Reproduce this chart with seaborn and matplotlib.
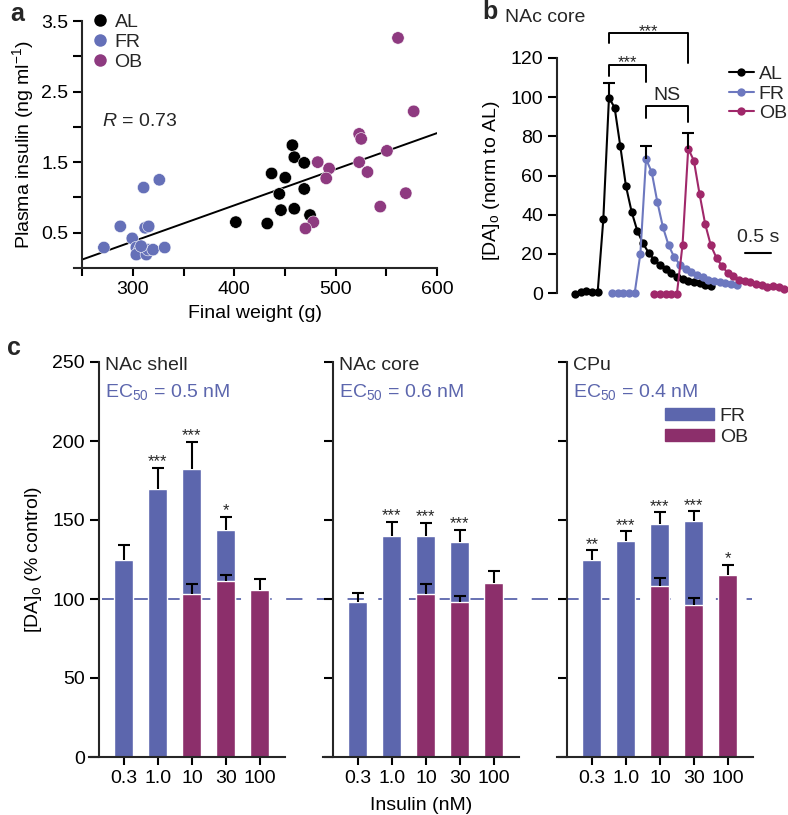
import numpy as np
import pandas as pd
import matplotlib
matplotlib.use("Agg")
import matplotlib.pyplot as plt
import matplotlib.transforms as mtransforms
from matplotlib.lines import Line2D
from matplotlib.patches import Patch
import seaborn as sns

# colours
BLUE = "#5c66ad"
PURPLE = "#8c2f6b"
DOT_COLORS = {"AL": "black", "FR": "#6570b8", "OB": "#8e3a80"}
LINE_COLORS = {"AL": "black", "FR": "#6d78bf", "OB": "#a0286a"}

# ---- panel a: final weight vs plasma insulin ----
al_weight = [401.5, 432.5, 436.8, 450.3, 444.4, 446.0, 457.3, 459.2, 469.0, 469.0, 459.2, 474.7]
al_insulin = [0.65, 0.63, 1.34, 1.28, 1.05, 0.82, 1.74, 1.57, 1.49, 1.12, 0.84, 0.75]
fr_weight = [271.3, 287.5, 299.3, 310.5, 326.0, 312.0, 315.5, 303.3, 306.6, 303.3, 313.2, 314.8, 319.8, 331.3, 308.0]
fr_insulin = [0.29, 0.59, 0.42, 1.14, 1.25, 0.57, 0.59, 0.29, 0.26, 0.19, 0.19, 0.26, 0.26, 0.29, 0.31]
ob_weight = [561.5, 577.0, 523.2, 525.2, 550.6, 482.3, 493.5, 523.2, 531.4, 490.7, 569.2, 544.0, 478.0, 470.2]
ob_insulin = [3.26, 2.22, 1.90, 1.83, 1.66, 1.50, 1.41, 1.50, 1.36, 1.27, 1.06, 0.87, 0.65, 0.56]

# ---- panel b: evoked [DA]o time course, NAc core ----
DT = 0.11  # s between samples
al_trace = [-0.5, 0.3, 1.0, 0.3, 0.3, 37.6, 99.8, 94.6, 75.0, 54.6, 41.5, 31.8, 25.4, 20.6,
            16.9, 14.3, 12.1, 10.0, 8.3, 7.1, 6.1, 5.4, 4.9, 4.1, 3.5]
fr_trace = [0, 0, 0, 0, 0, 20.0, 68.4, 61.8, 46.5, 33.5, 24.3, 18.2, 14.5, 12.3, 10.5, 9.2,
            8.0, 6.8, 6.0, 5.4, 5.1, 4.6, 3.9]
ob_trace = [-0.5, -0.5, -0.5, -0.5, -0.5, 24.7, 73.7, 67.6, 50.6, 35.2, 24.3, 17.9, 13.6,
            10.2, 8.5, 6.8, 6.0, 5.4, 4.8, 3.9, 3.1, 3.7, 3.1, 2.2]
trace_offset = {"AL": 0.0, "FR": 0.72, "OB": 1.54}
peak_sem = {"AL": 7.2, "FR": 6.8, "OB": 8.0}

# ---- panel c: insulin dose response ----
conc = ["0.3", "1.0", "10", "30", "100"]
fr_conc = ["0.3", "1.0", "10", "30"]
ob_conc = ["10", "30", "100"]
regions = ["NAc shell", "NAc core", "CPu"]
ec50 = ["0.5", "0.6", "0.4"]
fr_mean = [[124.5, 169.6, 182.5, 143.9], [97.9, 139.7, 139.7, 136.1], [125.0, 136.6, 147.3, 149.4]]
fr_sem = [[9.9, 13.3, 17.1, 8.0], [5.7, 9.0, 8.4, 7.6], [5.7, 6.3, 7.5, 6.1]]
fr_stars = [["", "***", "***", "*"], ["", "***", "***", "***"], ["**", "***", "***", "***"]]
ob_mean = [[103.4, 111.2, 105.5], [103.2, 98.3, 109.9], [108.4, 96.2, 115.5]]
ob_sem = [[6.3, 4.2, 7.2], [6.0, 3.6, 8.0], [4.6, 4.2, 5.9]]
ob_stars = [["", "", ""], ["", "", ""], ["", "", "*"]]

sns.set_style("ticks")
plt.rcParams["font.family"] = ["Liberation Sans", "DejaVu Sans"]
plt.rcParams["mathtext.fontset"] = "custom"
plt.rcParams["mathtext.rm"] = "Liberation Sans"
plt.rcParams["mathtext.it"] = "Liberation Sans:italic"
plt.rcParams["mathtext.bf"] = "Liberation Sans:bold"
plt.rcParams["axes.linewidth"] = 1.5
plt.rcParams["xtick.major.width"] = 1.5
plt.rcParams["ytick.major.width"] = 1.5
plt.rcParams["xtick.major.size"] = 6
plt.rcParams["ytick.major.size"] = 6.5
plt.rcParams["xtick.labelsize"] = 14
plt.rcParams["ytick.labelsize"] = 14
plt.rcParams["axes.labelsize"] = 14
plt.rcParams["axes.labelcolor"] = "black"
plt.rcParams["xtick.color"] = "black"
plt.rcParams["ytick.color"] = "black"

W, H = 788, 815
fig = plt.figure(figsize=(W / 100, H / 100), dpi=100)


def px_axes(left, top, right, bottom):
    return fig.add_axes([left / W, 1 - bottom / H, (right - left) / W, (bottom - top) / H])


def up_errorbar(ax, xs, means, sems, cap_ms=8):
    # upward-only error bars with a single cap on top
    tops = [m + s for m, s in zip(means, sems)]
    ax.vlines(xs, means, tops, color="black", lw=1.5, zorder=4, clip_on=False)
    ax.plot(xs, tops, ls="none", marker="_", ms=cap_ms, mew=1.5, color="black",
            zorder=4, clip_on=False)


# ================= panel a =================
ax = px_axes(74, 21, 437, 268)
ax.patch.set_visible(False)
df_a = pd.DataFrame({
    "weight": al_weight + fr_weight + ob_weight,
    "insulin": al_insulin + fr_insulin + ob_insulin,
    "group": ["AL"] * len(al_weight) + ["FR"] * len(fr_weight) + ["OB"] * len(ob_weight),
})
ax.set_xlim(250, 600)
sns.regplot(data=df_a, x="weight", y="insulin", scatter=False, ci=None, truncate=False,
            line_kws={"color": "black", "lw": 1.4}, ax=ax)
sns.scatterplot(data=df_a, x="weight", y="insulin", hue="group", palette=DOT_COLORS,
                s=80, edgecolor="white", linewidth=0.4, legend=False, ax=ax, zorder=3)
ax.set_xlim(241.8, 600)
ax.set_ylim(0, 3.5)
ax.spines["left"].set_position(("data", 250))
ax.spines[["top", "right"]].set_visible(False)
ax.set_xticks([250, 300, 350, 400, 450, 500, 550, 600])
ax.set_xticklabels(["", "300", "", "400", "", "500", "", "600"])
ax.set_yticks([0.5, 1.0, 1.5, 2.0, 2.5, 3.0, 3.5])
ax.set_yticklabels(["0.5", "", "1.5", "", "2.5", "", "3.5"])
ax.set_xlabel("Final weight (g)", labelpad=5)
ax.set_ylabel("Plasma insulin (ng ml$^{-1}$)", labelpad=4)
ax.text(0.077, 0.595, "$R$ = 0.73", transform=ax.transAxes, fontsize=14, va="center")
handles = [Line2D([], [], ls="none", marker="o", ms=9, mec="none", mfc=DOT_COLORS[g]) for g in ["AL", "FR", "OB"]]
ax.legend(handles, ["AL", "FR", "OB"], loc="upper left", bbox_to_anchor=(0.05, 1.03),
          frameon=False, fontsize=14, handlelength=0.8, handletextpad=0.35,
          labelspacing=0.12, borderpad=0, borderaxespad=0)
fig.text(10 / W, 1 - 14 / H, "a", fontsize=18, fontweight="bold", va="center")

# ================= panel b =================
ax = px_axes(557, 58, 787, 302.8)
ax.patch.set_visible(False)
traces = {"AL": al_trace, "FR": fr_trace, "OB": ob_trace}
rows = []
for g, vals in traces.items():
    for i, v in enumerate(vals):
        rows.append((g, trace_offset[g] + i * DT, v))
df_b = pd.DataFrame(rows, columns=["group", "t", "da"])
sns.lineplot(data=df_b, x="t", y="da", hue="group", palette=LINE_COLORS, marker="o",
             markersize=6, markeredgewidth=0, lw=1.5, errorbar=None, legend=False, ax=ax)
for ln in ax.lines:
    ln.set_clip_on(False)
peak_t = {}
for g, vals in traces.items():
    k = int(np.argmax(vals))
    peak_t[g] = trace_offset[g] + k * DT
    up_errorbar(ax, [peak_t[g]], [vals[k]], [peak_sem[g]], cap_ms=9)


def bracket(x1, x2, y, y1, y2, label, fs, gap):
    ax.plot([x1, x1, x2, x2], [y1, y, y, y2], color="black", lw=1.4, clip_on=False)
    ax.text((x1 + x2) / 2, y + gap, label, ha="center", va="baseline", fontsize=fs)


bracket(peak_t["AL"], peak_t["OB"], 132.8, 127.7, 117.4, "***", 12, -1.5)
bracket(peak_t["AL"], peak_t["FR"], 116.6, 110.6, 107.6, "***", 12, -1.5)
bracket(peak_t["FR"], peak_t["OB"], 95.3, 89.4, 87.1, "NS", 14, 3.0)
ax.plot([3.31, 3.81], [20.4, 20.4], color="black", lw=1.5, clip_on=False)
ax.text(3.56, 24, "0.5 s", ha="center", va="bottom", fontsize=14)
ax.set_xlim(-0.35, 4.12)
ax.set_ylim(-5, 120)
ax.spines["left"].set_bounds(0, 120)
ax.spines[["top", "right", "bottom"]].set_visible(False)
ax.set_xticks([])
ax.set_xlabel("")
ax.set_yticks(range(0, 121, 20))
ax.set_ylabel("[DA]$_\\mathrm{o}$ (norm to AL)", labelpad=6)
handles = [Line2D([], [], color=LINE_COLORS[g], lw=1.5, marker="o", ms=6, mec="none") for g in ["AL", "FR", "OB"]]
ax.legend(handles, ["AL", "FR", "OB"], loc="upper right", bbox_to_anchor=(1.0, 0.97),
          frameon=False, fontsize=14, handlelength=1.3, handletextpad=0.25,
          labelspacing=0.1, borderpad=0, borderaxespad=0)
fig.text(482 / W, 1 - 12 / H, "b", fontsize=18, fontweight="bold", va="center")
fig.text(505 / W, 1 - 18 / H, "NAc core", fontsize=14, va="center")

# ================= panel c =================
axes_c = [px_axes(left, 362, left + 196, 757) for left in (89, 323, 557)]
for j, ax in enumerate(axes_c):
    ax.patch.set_visible(False)
    df_fr = pd.DataFrame({"conc": fr_conc, "val": fr_mean[j]})
    df_ob = pd.DataFrame({"conc": ob_conc, "val": ob_mean[j]})
    sns.barplot(data=df_fr, x="conc", y="val", order=conc, color=BLUE, width=0.56,
                saturation=1, errorbar=None, ax=ax, zorder=2)
    sns.barplot(data=df_ob, x="conc", y="val", order=conc, color=PURPLE, width=0.56,
                saturation=1, errorbar=None, ax=ax, zorder=2)
    for cats, means, sems, stars in [(fr_conc, fr_mean[j], fr_sem[j], fr_stars[j]),
                                     (ob_conc, ob_mean[j], ob_sem[j], ob_stars[j])]:
        xs = [conc.index(c) for c in cats]
        up_errorbar(ax, xs, means, sems)
        for x, m, s, st in zip(xs, means, sems, stars):
            if st:
                ax.text(x, m + s + 1, st, ha="center", va="baseline", fontsize=12)
    ax.set_xlim(-1.03, 4.74)
    ax.set_ylim(0, 250)
    ax.spines["left"].set_position(("data", -0.74))
    ax.spines[["top", "right"]].set_visible(False)
    ax.set_yticks(range(0, 251, 50))
    ax.set_xlabel("")
    ax.set_ylabel("")
    if j > 0:
        ax.set_yticklabels([])
    ax.text(0.082, 0.992, regions[j], transform=ax.transAxes, fontsize=14, va="center")
    ax.text(0.082, 0.924, "EC$_{50}$ = " + ec50[j] + " nM", transform=ax.transAxes,
            fontsize=14, va="center", color=BLUE)

axes_c[0].set_ylabel("[DA]$_\\mathrm{o}$ (% control)", labelpad=6)
axes_c[1].set_xlabel("Insulin (nM)", labelpad=7)
# control level across all three regions
trans = mtransforms.blended_transform_factory(fig.transFigure, axes_c[0].transData)
axes_c[0].add_line(Line2D([102 / W, 752 / W], [100, 100], transform=trans, color=BLUE,
                          lw=1.3, dashes=(9, 8), clip_on=False, zorder=1))
axes_c[2].legend(handles=[Patch(color=BLUE, label="FR"), Patch(color=PURPLE, label="OB")],
                 loc="upper right", bbox_to_anchor=(0.974, 0.884), frameon=False, fontsize=14,
                 handlelength=2.5, handleheight=0.6, handletextpad=0.3, labelspacing=0.2,
                 borderpad=0, borderaxespad=0)
fig.text(7 / W, 1 - 348 / H, "c", fontsize=18, fontweight="bold", va="center")

fig.savefig("out.png", dpi=100)
